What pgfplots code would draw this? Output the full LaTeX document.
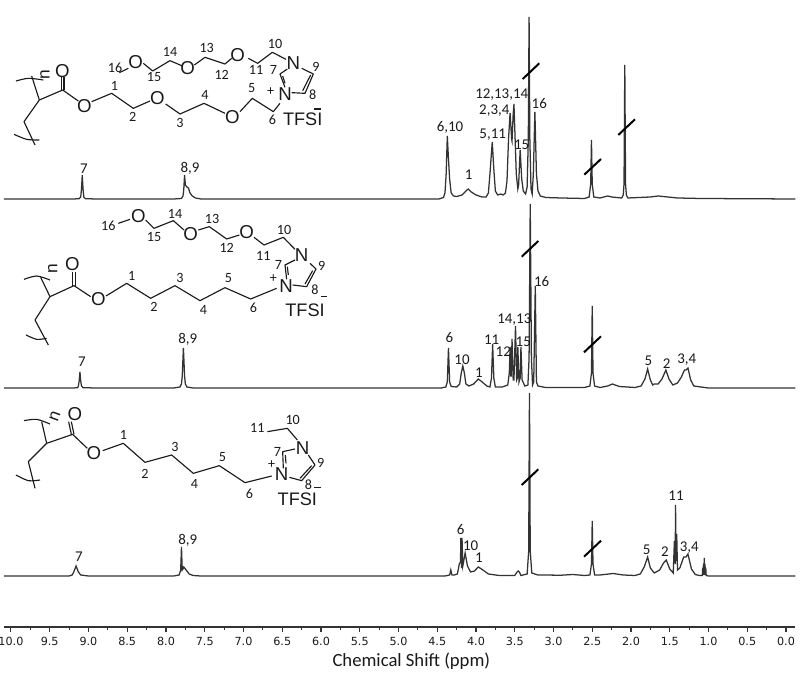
\documentclass[border=0pt]{standalone}
\usepackage{fontspec}
\usepackage{pgfplots}
\usepackage{pgfplotstable}
\pgfplotsset{compat=1.18}
\setmainfont{Carlito}
\newfontfamily\arial{Liberation Sans}
\newfontfamily\tickfont{DejaVu Sans}
\definecolor{trace}{HTML}{333333}
\definecolor{ink}{HTML}{1A1A1A}

% ppm, height above the baseline in px
\pgfplotstableread{
ppm h
10.09 0
9.20 0
9.12 0.3
9.10 2
9.09 10
9.08 24
9.07 10
9.06 2
9.04 0.3
8.90 0
7.90 0
7.80 0.5
7.78 3
7.77 10
7.76 24
7.75 14
7.73 12
7.71 11
7.69 6
7.66 3
7.62 1
7.55 0
4.48 0
4.42 1.5
4.40 6
4.385 25
4.37 63
4.355 40
4.34 20
4.32 6
4.29 3
4.25 2.5
4.18 4
4.13 8
4.10 10
4.06 7
4.00 4
3.92 2
3.87 2
3.84 6
3.82 25
3.79 57
3.77 30
3.75 8
3.72 4
3.68 5
3.65 4
3.62 6
3.60 18
3.58 60
3.56 86
3.54 60
3.535 58
3.52 85
3.51 95
3.495 60
3.48 25
3.46 10
3.45 14
3.43 49
3.41 20
3.39 8
3.36 5
3.34 12
3.325 60
3.315 182
3.305 60
3.29 10
3.275 5
3.26 25
3.24 87
3.22 25
3.20 8
3.17 3
3.10 1.5
2.90 1
2.60 0.5
2.54 2
2.52 15
2.51 59
2.50 15
2.48 2
2.40 1
2.30 3
2.25 2
2.12 1
2.10 4
2.09 15
2.08 134
2.07 15
2.06 4
2.04 1
1.75 2
1.65 3
1.40 1
1.10 0.5
-0.12 0
}\toptrace

\pgfplotstableread{
ppm h
10.09 0
9.20 0
9.14 0.3
9.13 2
9.12 7
9.11 16
9.10 7
9.09 2
9.07 0.3
8.90 0
7.90 0
7.82 1
7.80 4
7.79 12
7.775 40
7.76 12
7.75 4
7.73 1
7.65 0
4.45 0
4.39 1
4.37 6
4.355 40
4.34 6
4.32 1.5
4.25 1
4.21 4
4.19 15
4.17 22
4.15 15
4.13 4
4.09 2
4.03 4
3.97 9
3.92 6
3.86 2
3.82 1
3.80 10
3.785 44
3.77 10
3.75 1
3.66 1
3.59 3
3.57 15
3.56 41
3.55 12
3.545 12
3.535 49
3.52 8
3.51 8
3.49 62
3.475 8
3.465 10
3.46 41
3.445 6
3.43 10
3.42 41
3.405 8
3.37 2
3.33 3
3.315 30
3.30 184
3.285 30
3.27 3
3.255 6
3.235 102
3.22 6
3.20 2
3.10 0.5
2.60 0.5
2.53 2
2.51 15
2.50 82
2.49 15
2.47 2
2.40 0.5
2.30 2
2.24 4
2.15 1.5
1.95 0.5
1.87 2
1.82 9
1.785 19
1.75 8
1.72 3
1.70 4
1.65 4
1.60 9
1.55 18
1.51 9
1.46 3
1.40 5
1.35 11
1.31 18
1.29 18
1.265 20
1.23 8
1.19 2
1.10 1
1.00 0
-0.12 0
}\midtrace

\pgfplotstableread{
ppm h
10.09 0
9.25 0
9.21 1
9.19 4
9.16 10
9.13 4
9.10 1
9.00 0
7.90 0
7.83 1
7.81 6
7.80 29
7.79 6
7.78 7
7.77 9
7.74 6
7.70 2
7.65 0.5
7.55 0
4.40 0
4.34 1
4.325 6
4.31 1
4.28 1
4.24 2
4.215 12
4.20 14
4.195 38
4.185 8
4.18 38
4.17 10
4.14 23
4.11 10
4.07 4
4.02 5
3.97 9
3.91 6
3.84 2
3.70 0.5
3.50 0.5
3.47 4
3.455 5
3.44 4
3.42 0.5
3.34 2
3.32 25
3.31 183
3.30 25
3.28 3
3.20 1
2.90 0.8
2.75 1.5
2.60 0.5
2.53 1
2.51 12
2.50 55
2.49 12
2.47 1
2.40 1
2.23 2.5
2.10 1
1.95 0.5
1.88 2
1.83 9
1.785 19
1.75 8
1.70 3
1.63 6
1.58 13
1.545 16
1.50 7
1.455 3
1.44 35
1.43 12
1.425 71
1.42 15
1.41 42
1.40 6
1.37 8
1.32 19
1.29 19
1.265 22
1.22 7
1.17 1.5
1.12 0.5
1.08 0.5
1.075 8
1.07 1
1.065 12
1.06 1
1.055 18
1.05 1
1.045 12
1.04 1
1.035 8
1.03 0.5
1.00 0
-0.12 0
}\bottrace

\pgfplotsset{
  over/.style={
    at={(0pt,0pt)},anchor=south west,
    scale only axis,width=600pt,height=505.5pt,
    xmin=0,xmax=#1,y dir=reverse,
    hide axis,clip=false,
  },
  bond/.style={draw=ink,line width=0.85pt,mark=none,line join=round},
  breakmark/.style={draw=black,line width=1.5pt,mark=none},
}
\newcommand{\bond}[1]{\addplot[bond] coordinates {#1};}
\newcommand{\bracket}[1]{\addplot[bond,smooth] coordinates {#1};}
\newcommand{\brk}[1]{\addplot[breakmark] coordinates {#1};}
\newcommand{\lab}[3]{\node[font=\fontsize{10.6pt}{11pt}\selectfont,text=ink,inner sep=0pt] at (axis cs:#1,#2) {#3};}
\newcommand{\atom}[3]{\node[font=\arial\fontsize{14pt}{15pt}\selectfont,text=ink,inner sep=0pt] at (axis cs:#1,#2) {#3};}
\newcommand{\anion}[2]{\node[font=\arial\fontsize{13.6pt}{14pt}\selectfont,text=ink,inner sep=0pt] at (axis cs:#1,#2) {TFSI};}
\newcommand{\peak}[3]{\node[font=\fontsize{11.2pt}{12pt}\selectfont,text=ink,inner sep=0pt] at (axis cs:#1,#2) {#3};}

\begin{document}
\begin{tikzpicture}
\useasboundingbox (0pt,0pt) rectangle (600pt,505.5pt);

% spectra, y is px above the axis line
\begin{axis}[
  at={(3pt,35.25pt)},anchor=south west,
  scale only axis,width=593.25pt,height=470.25pt,
  x dir=reverse,xmin=-0.116,xmax=10.09,ymin=0,ymax=627,
  axis x line=bottom,axis y line=none,
  axis line style={-,draw=trace,line width=0.9pt},
  xtick distance=0.5,minor x tick num=1,
  xtick align=outside,
  major tick length=3.75pt,minor tick length=2.25pt,
  tick style={draw=trace,line width=0.8pt},
  /pgf/number format/assume math mode=true,
  /pgf/number format/fixed,/pgf/number format/fixed zerofill,/pgf/number format/precision=1,
  xticklabel style={font=\tickfont\fontsize{8.4pt}{9pt}\selectfont,text=ink,yshift=-0.5pt},
  xlabel={Chemical Shift (ppm)},
  xlabel style={font=\fontsize{14pt}{15pt}\selectfont,text=ink,at={(axis description cs:0.515,0)},anchor=center,yshift=-26pt},
  clip=false,
]
\addplot[trace,line width=0.95pt,mark=none] table[x=ppm,y expr=\thisrow{h}+428] {\toptrace};
\addplot[trace,line width=0.95pt,mark=none] table[x=ppm,y expr=\thisrow{h}+239] {\midtrace};
\addplot[trace,line width=0.95pt,mark=none] table[x=ppm,y expr=\thisrow{h}+51] {\bottrace};
\end{axis}

% axis breaks and peak labels, image px
\begin{axis}[over=800,ymin=0,ymax=674]
\brk{(522.7,79) (539.3,63.3)}
\brk{(584.3,174.7) (601,159)}
\brk{(618.3,135) (635,119.3)}
\brk{(521.7,256.7) (538.3,241)}
\brk{(584,352.3) (601,336.3)}
\brk{(521.7,485) (538.3,469.3)}
\brk{(584,556.7) (601,540.7)}
\peak{84}{169}{7}
\peak{190}{168}{8,9}
\peak{450}{127.7}{6,10}
\peak{468.7}{174.3}{1}
\peak{492.7}{135}{5,11}
\peak{494.3}{111}{2,3,4}
\peak{501.7}{95}{12,13,14}
\peak{521.7}{144.3}{15}
\peak{539.3}{104}{16}
\peak{82}{361.7}{7}
\peak{187.7}{339.3}{8,9}
\peak{449.3}{337.7}{6}
\peak{462}{360}{10}
\peak{479}{372.3}{1}
\peak{491.7}{340}{11}
\peak{503.3}{351.7}{12}
\peak{514.3}{320}{14,13}
\peak{523.3}{341.7}{15}
\peak{541.7}{281.7}{16}
\peak{648.3}{361}{5}
\peak{666.7}{363.3}{2}
\peak{686.7}{360}{3,4}
\peak{79}{556.7}{7}
\peak{187.7}{540}{8,9}
\peak{460.7}{530}{6}
\peak{470.7}{545.7}{10}
\peak{479}{557.3}{1}
\peak{646.7}{550}{5}
\peak{665}{551.7}{2}
\peak{676}{496}{11}
\peak{689.3}{547.7}{3,4}
\end{axis}

% top structure, coordinates are 3x px
\begin{axis}[over=2400,ymin=0,ymax=2022]
\bond{(118,300) (95,228)}
\bracket{(48,243) (85,235) (130,240)}
\bond{(118,300) (72,365) (105,435)}
\bracket{(42,403) (80,418) (118,420)}
\bond{(118,300) (188,270) (235,303)}
\bond{(184,270) (184,232)}
\bond{(192,270) (192,232)}
\bond{(275,305) (335,280) (400,325) (450,303)}
\bond{(497,312) (540,342) (612,310) (675,340)}
\bond{(720,335) (757,295) (820,335) (840,310)}
\bond{(358,218) (385,205)}
\bond{(430,190) (458,213) (510,182) (545,197)}
\bond{(583,195) (615,172) (675,192) (695,175)}
\bond{(745,175) (773,190) (817,157) (858,178)}
\bond{(905,205) (940,222) (915,280) (875,278)}
\bond{(855,262) (840,222) (862,207)}
\bond{(855,250) (848,228)}
\bond{(932,225) (908,272)}
\atom{187}{212}{O}
\atom{253}{318}{O}
\atom{472}{295}{O}
\atom{697}{352}{O}
\atom{855}{283}{N}
\atom{880}{188}{N}
\atom{713}{165}{O}
\atom{563}{205}{O}
\atom{407}{187}{O}
\node[font=\arial\fontsize{13pt}{14pt}\selectfont,text=ink,rotate=90,inner sep=0pt] at (axis cs:135,225) {n};
\lab{345}{203}{16}
\lab{462}{232}{15}
\lab{510}{155}{14}
\lab{620}{145}{13}
\lab{665}{225}{12}
\lab{768}{210}{11}
\lab{825}{132}{10}
\lab{820}{210}{7}
\lab{948}{200}{9}
\lab{938}{285}{8}
\lab{812}{275}{+}
\lab{343}{258}{1}
\lab{398}{352}{2}
\lab{540}{370}{3}
\lab{615}{285}{4}
\lab{755}{265}{5}
\lab{817}{358}{6}
\anion{908}{358}
\bond{(942,327) (962,327)}
\end{axis}

% middle structure
\begin{axis}[over=2400,ymin=-600,ymax=1422]
\bond{(150,290) (122,232)}
\bracket{(72,238) (110,228) (150,240)}
\bond{(150,290) (105,360) (145,435)}
\bracket{(78,405) (110,418) (140,415)}
\bond{(150,290) (222,257) (272,290)}
\bond{(218,257) (218,215)}
\bond{(226,257) (226,215)}
\bond{(318,288) (380,250) (452,295) (525,257) (600,302) (675,263) (752,297) (830,265)}
\bond{(355,70) (390,58)}
\bond{(437,60) (462,85) (520,62) (552,90)}
\bond{(595,90) (628,80) (680,117) (718,105)}
\bond{(762,112) (792,135) (850,112) (885,148)}
\bond{(930,190) (948,207) (920,260) (878,255)}
\bond{(860,238) (855,195) (885,180)}
\bond{(865,225) (862,200)}
\bond{(938,212) (915,252)}
\atom{217}{192}{O}
\atom{295}{298}{O}
\atom{858}{258}{N}
\atom{905}{165}{N}
\atom{415}{47}{O}
\atom{572}{103}{O}
\atom{740}{97}{O}
\node[font=\arial\fontsize{13pt}{14pt}\selectfont,text=ink,rotate=90,inner sep=0pt] at (axis cs:158,207) {n};
\lab{325}{78}{16}
\lab{462}{110}{15}
\lab{525}{42}{14}
\lab{636}{58}{13}
\lab{680}{145}{12}
\lab{790}{168}{11}
\lab{852}{90}{10}
\lab{835}{195}{7}
\lab{965}{198}{9}
\lab{945}{268}{8}
\lab{820}{237}{+}
\lab{395}{228}{1}
\lab{462}{322}{2}
\lab{540}{235}{3}
\lab{610}{330}{4}
\lab{685}{235}{5}
\lab{760}{322}{6}
\anion{915}{330}
\bond{(962,290) (982,290)}
\end{axis}

% bottom structure
\begin{axis}[over=2400,ymin=-1200,ymax=822]
\bond{(140,130) (125,65)}
\bracket{(72,62) (110,58) (150,72)}
\bond{(140,130) (85,185) (105,265)}
\bracket{(48,225) (85,242) (120,240)}
\bond{(140,130) (218,103) (262,145)}
\bond{(214,103) (206,65)}
\bond{(222,103) (214,65)}
\bond{(308,152) (370,130) (435,187) (515,165) (580,220) (658,197) (735,248) (815,228)}
\bond{(802,95) (862,85) (892,120)}
\bond{(925,165) (945,195) (905,242) (868,232)}
\bond{(850,205) (848,155) (885,147)}
\bond{(858,190) (856,165)}
\bond{(935,197) (900,235)}
\atom{225}{43}{O}
\atom{282}{160}{O}
\atom{845}{222}{N}
\atom{908}{143}{N}
\node[font=\arial\fontsize{13pt}{14pt}\selectfont,text=ink,rotate=70,inner sep=0pt] at (axis cs:165,48) {n};
\lab{772}{83}{11}
\lab{878}{60}{10}
\lab{832}{155}{7}
\lab{962}{190}{9}
\lab{925}{255}{8}
\lab{815}{195}{+}
\lab{370}{105}{1}
\lab{435}{222}{2}
\lab{525}{142}{3}
\lab{583}{252}{4}
\lab{667}{172}{5}
\lab{748}{282}{6}
\anion{892}{298}
\bond{(942,262) (962,262)}
\end{axis}
\end{tikzpicture}
\end{document}
